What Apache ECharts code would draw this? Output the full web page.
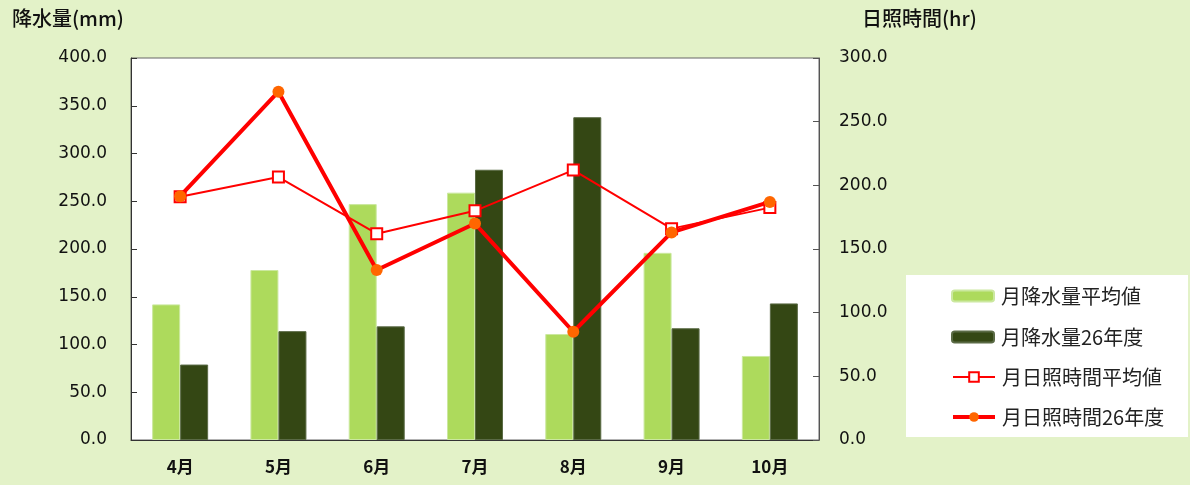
<!DOCTYPE html>
<html><head><meta charset="utf-8">
<script src="https://cdn.jsdelivr.net/npm/echarts@6/dist/echarts.min.js"></script>
<style>html,body{margin:0;padding:0;background:#E3F2C8;}#c{width:1190px;height:485px;}</style>
</head><body><div id="c"></div>
<script>
const categories = ['4月','5月','6月','7月','8月','9月','10月'];
const rainAvg = [142, 178, 247, 259, 111, 196, 88];
const rain26 = [79, 114, 119, 283, 338, 117, 143];
const sunAvg = [191, 206.5, 162, 180, 212, 166, 182.5];
const sun26 = [191.5, 273.5, 133.5, 170, 85, 163, 187];
const leftTicks = {min: 0, max: 400, interval: 50};
const rightTicks = {min: 0, max: 300, interval: 50};
const names = ['月降水量平均値','月降水量26年度','月日照時間平均値','月日照時間26年度'];

const font = '"Noto Sans CJK JP", "Noto Sans", sans-serif';
const numFont = '"DejaVu Sans", sans-serif';
const legendText = {fontSize: 20, color: '#222', fontFamily: font, lineHeight: 20, padding: [0, 0, 0, 2]};
const chart = echarts.init(document.getElementById('c'));
chart.setOption({
  backgroundColor: '#E3F2C8',
  animation: false,
  textStyle: {fontFamily: font},
  graphic: [
    {type: 'rect', left: 906, top: 275, shape: {width: 282, height: 162}, style: {fill: '#fff'}, z: 0},
    {type: 'text', left: 12, top: 8, style: {text: '降水量(mm)', font: '500 20px ' + font, fill: '#111'}},
    {type: 'text', left: 862, top: 8, style: {text: '日照時間(hr)', font: '500 20px ' + font, fill: '#111'}}
  ],
  grid: {left: 131, right: 371, top: 58, bottom: 45, show: true, backgroundColor: '#fff', borderColor: '#666', borderWidth: 1},
  legend: [
    {orient: 'vertical', left: 946, top: 281, itemWidth: 42, itemHeight: 11, itemGap: 21,
     data: [names[0], names[1]], textStyle: legendText, z: 5},
    {orient: 'vertical', left: 946, top: 362, itemWidth: 42, itemHeight: 12, itemGap: 20,
     data: [
       {name: names[2], lineStyle: {width: 2}},
       {name: names[3], lineStyle: {width: 4}}
     ], textStyle: legendText, z: 5}
  ],
  xAxis: {
    type: 'category', data: categories,
    axisLine: {lineStyle: {color: '#333'}},
    axisTick: {inside: true, length: 6, lineStyle: {color: '#333'}},
    axisLabel: {fontSize: 17, fontWeight: 'bold', color: '#111', margin: 18}
  },
  yAxis: [
    {type: 'value', min: leftTicks.min, max: leftTicks.max, interval: leftTicks.interval,
     axisLine: {show: true, lineStyle: {color: '#333'}},
     axisTick: {show: true, inside: true, length: 6, lineStyle: {color: '#333'}},
     splitLine: {show: false},
     axisLabel: {fontSize: 17, fontFamily: numFont, color: '#111', margin: 24, formatter: v => v.toFixed(1)}},
    {type: 'value', min: rightTicks.min, max: rightTicks.max, interval: rightTicks.interval,
     axisLine: {show: true, lineStyle: {color: '#555'}},
     axisTick: {show: true, inside: true, length: 6, lineStyle: {color: '#555'}},
     splitLine: {show: false},
     axisLabel: {fontSize: 17, fontFamily: numFont, color: '#111', margin: 20, formatter: v => v.toFixed(1)}}
  ],
  series: [
    {name: names[0], type: 'bar', data: rainAvg, barWidth: 28, barGap: '0%',
     itemStyle: {color: '#ADDA5C', borderColor: '#CBE89F', borderWidth: 1}},
    {name: names[1], type: 'bar', data: rain26, barWidth: 28, barGap: '0%',
     itemStyle: {color: '#344714', borderColor: '#5a6a45', borderWidth: 1}},
    {name: names[2], type: 'line', yAxisIndex: 1, data: sunAvg, symbol: 'rect', symbolSize: 11,
     lineStyle: {color: '#FF0000', width: 2}, itemStyle: {color: '#fff', borderColor: '#FF0000', borderWidth: 2}, z: 3},
    {name: names[3], type: 'line', yAxisIndex: 1, data: sun26, symbol: 'circle', symbolSize: 12,
     lineStyle: {color: '#FF0000', width: 4}, itemStyle: {color: '#FF6600', borderWidth: 0}, z: 4}
  ]
});
</script></body></html>
